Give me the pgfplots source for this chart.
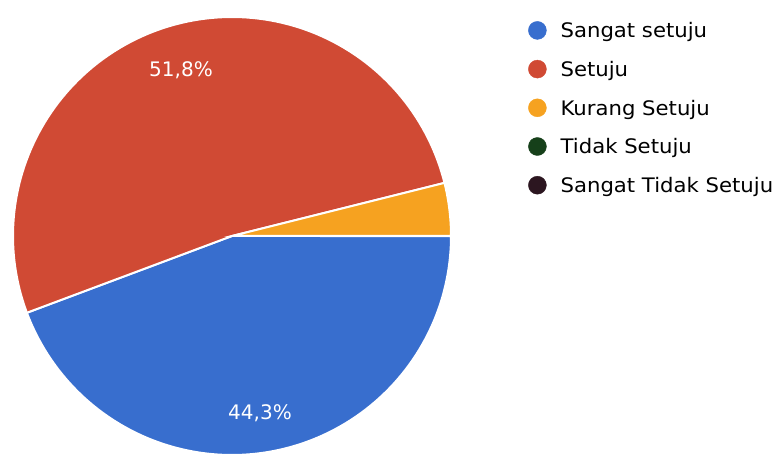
\documentclass[border=0pt]{standalone}
\usepackage{pgfplots}
\pgfplotsset{compat=1.18}
\usepackage{pgfplotstable}
\usepackage{fontspec}
\setmainfont{DejaVu Sans}
\definecolor{cBlue}{RGB}{56,110,206}
\definecolor{cRed}{RGB}{208,74,52}
\definecolor{cOrange}{RGB}{246,162,32}
\definecolor{cGreen}{RGB}{22,64,26}
\definecolor{cDark}{RGB}{44,22,32}
\pgfplotstableread{
label value
SangatSetuju 44.3
Setuju 51.8
KurangSetuju 3.9
TidakSetuju 0
SangatTidakSetuju 0
}\piedata
\newcommand{\legtext}[1]{\hspace{14pt}\scalebox{1.06}[1]{#1}}
\begin{document}
\begin{tikzpicture}
\pgfplotstablegetelem{0}{value}\of\piedata \let\vA\pgfplotsretval
\pgfplotstablegetelem{1}{value}\of\piedata \let\vB\pgfplotsretval
\pgfplotstablegetelem{2}{value}\of\piedata \let\vC\pgfplotsretval
\pgfmathsetmacro\aA{-3.6*\vA}
\pgfmathsetmacro\aB{-3.6*(\vA+\vB)}
\pgfmathsetmacro\aC{-3.6*(\vA+\vB+\vC)}
\begin{axis}[width=777pt,height=458pt,scale only axis,
  xmin=0,xmax=777,ymin=0,ymax=458,hide axis,clip=false,
  legend style={draw=none,fill=none,at={(axis cs:528,437)},anchor=north west,
    font=\fontsize{20}{22}\selectfont,row sep=17pt,inner sep=0pt,
    nodes={inner sep=0pt,text height=16pt,text depth=5pt}},
  legend cell align=left]
\path (rel axis cs:0,0) rectangle (rel axis cs:1,1);
\addplot[forget plot,fill=cBlue,draw=white,line width=2pt,domain=\aA:0,samples=120,variable=\t]
  ({232+219*cos(\t)},{222+219*sin(\t)}) -- (axis cs:232,222) -- cycle;
\addplot[forget plot,fill=cRed,draw=white,line width=2pt,domain=\aB:\aA,samples=120,variable=\t]
  ({232+219*cos(\t)},{222+219*sin(\t)}) -- (axis cs:232,222) -- cycle;
\addplot[forget plot,fill=cOrange,draw=white,line width=2pt,domain=\aC:\aB,samples=20,variable=\t]
  ({232+219*cos(\t)},{222+219*sin(\t)}) -- (axis cs:232,222) -- cycle;
\node[text=white,font=\fontsize{20}{22}\selectfont] at (axis cs:181,388) {51,8\%};
\node[text=white,font=\fontsize{20}{22}\selectfont] at (axis cs:260,45) {44,3\%};
\addlegendimage{legend image code/.code={\fill[cBlue] (9pt,2pt) circle (9pt);}}
\addlegendentry{\legtext{Sangat setuju}}
\addlegendimage{legend image code/.code={\fill[cRed] (9pt,2pt) circle (9pt);}}
\addlegendentry{\legtext{Setuju}}
\addlegendimage{legend image code/.code={\fill[cOrange] (9pt,2pt) circle (9pt);}}
\addlegendentry{\legtext{Kurang Setuju}}
\addlegendimage{legend image code/.code={\fill[cGreen] (9pt,2pt) circle (9pt);}}
\addlegendentry{\legtext{Tidak Setuju}}
\addlegendimage{legend image code/.code={\fill[cDark] (9pt,2pt) circle (9pt);}}
\addlegendentry{\legtext{Sangat Tidak Setuju}}
\end{axis}
\end{tikzpicture}
\end{document}
